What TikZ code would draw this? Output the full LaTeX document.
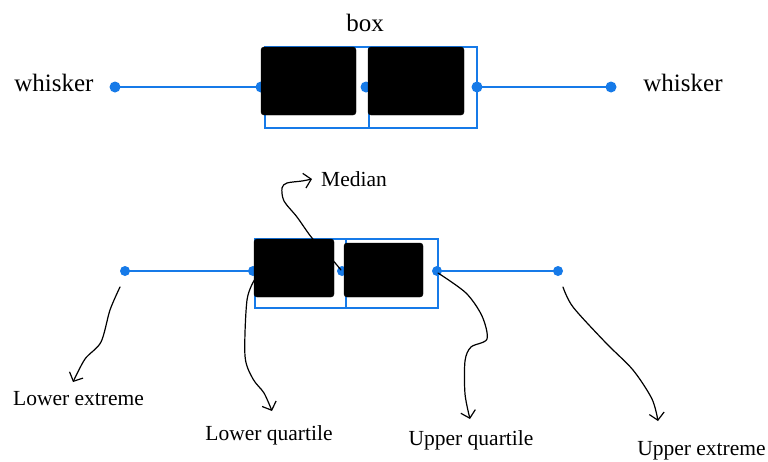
\documentclass[tikz,border=0pt]{standalone}
\usepackage{fontspec}
\setmainfont{Liberation Serif}
\usetikzlibrary{arrows.meta}

\definecolor{plotblue}{RGB}{22,122,232}

\tikzset{
  wline/.style={draw=plotblue, line width=1.4pt},
  outline/.style={draw=plotblue, line width=1.4pt},
  dot/.style={circle, fill=plotblue, inner sep=0pt, minimum size=11pt},
  blk/.style={fill=black, draw=black, rounded corners=3pt},
  biglabel/.style={font=\fontsize{25}{28}\selectfont, anchor=base, inner sep=0pt},
  label/.style={font=\fontsize{21.5}{25}\selectfont, anchor=base, inner sep=0pt},
  hand/.style={draw=black, line width=1.2pt, line cap=round, line join=round,
    -{Straight Barb[length=7pt, width=15pt, line width=1.2pt]}},
}

\begin{document}
\begin{tikzpicture}[x=1pt, y=-1pt]
\useasboundingbox (0,0) rectangle (768,461);
\fill[white] (0,0) rectangle (768,461);

% ---------- upper box plot ----------
\coordinate (tL)   at (115,87);
\coordinate (tQ1)  at (261,87);
\coordinate (tMed) at (366,87);
\coordinate (tQ3)  at (477,87);
\coordinate (tR)   at (611,87);

\draw[wline] (tL) -- (tQ1);
\draw[wline] (tQ3) -- (tR);
\draw[outline] (265,47) rectangle (477,128);
\draw[outline] (369,47) -- (369,128);

\node[dot] (tdL)   at (tL) {};
\node[dot] (tdQ1)  at (tQ1) {};
\node[dot] (tdMed) at (tMed) {};
\node[dot] (tdQ3)  at (tQ3) {};
\node[dot] (tdR)   at (tR) {};

\node[blk, minimum width=95pt, minimum height=68pt, inner sep=0pt] (tb1) at (308.5,81) {};
\node[blk, minimum width=96pt, minimum height=68pt, inner sep=0pt] (tb2) at (416,81) {};

\node[biglabel] (boxlbl) at (365,31) {box};
\node[biglabel] (wl) at (54,91) {whisker};
\node[biglabel] (wr) at (683,91) {whisker};

% ---------- lower box plot ----------
\coordinate (bL)   at (125,271);
\coordinate (bQ1)  at (253,271);
\coordinate (bMed) at (342,271);
\coordinate (bQ3)  at (437,271);
\coordinate (bR)   at (558,271);

\draw[wline] (bL) -- (bQ1);
\draw[wline] (bQ3) -- (bR);
\draw[outline] (255,239) rectangle (438,308);
\draw[outline] (346,239) -- (346,308);

\node[dot, minimum size=10pt] (bdL)   at (bL) {};
\node[dot, minimum size=10pt] (bdQ1)  at (bQ1) {};
\node[dot, minimum size=10pt] (bdMed) at (bMed) {};
\node[dot, minimum size=10pt] (bdQ3)  at (bQ3) {};
\node[dot, minimum size=10pt] (bdR)   at (bR) {};

\node[blk, minimum width=80pt, minimum height=58pt, inner sep=0pt] (bb1) at (294,268) {};
\node[blk, minimum width=79pt, minimum height=54pt, inner sep=0pt] (bb2) at (383.5,270) {};

% labels
\node[label] (medlbl) at (354,186) {Median};
\node[label] (lelbl)  at (78.5,405) {Lower extreme};
\node[label] (lqlbl)  at (269,440) {Lower quartile};
\node[label] (uqlbl)  at (471,445) {Upper quartile};
\node[label] (uelbl)  at (701.5,455) {Upper extreme};

% hand-drawn pointers
\coordinate (medS) at (341,270);
\coordinate (medT) at (312,179);
\coordinate (leS)  at (120,287);
\coordinate (leT)  at (73,382);
\coordinate (lqS)  at (255,279);
\coordinate (lqT)  at (272,411);
\coordinate (uqS)  at (438,273);
\coordinate (uqT)  at (470,419);
\coordinate (ueS)  at (563,287);
\coordinate (ueT)  at (658,421);

\draw[hand] plot[smooth, tension=0.5] coordinates
  {(medS) (330,257) (312,238) (297,217) (284,201) (282,188) (287,183) (302,181) (medT)};
\draw[hand] plot[smooth, tension=0.5] coordinates
  {(leS) (110,310) (101,342) (85,359) (leT)};
\draw[hand] plot[smooth, tension=0.5] coordinates
  {(lqS) (247,300) (245,356) (253,379) (264,393) (lqT)};
\draw[hand] plot[smooth, tension=0.5] coordinates
  {(uqS) (466,293) (482,316) (487,339) (471,347) (465,361) (465,394) (uqT)};
\draw[hand] plot[smooth, tension=0.5] coordinates
  {(ueS) (573,307) (606,343) (633,370) (652,399) (ueT)};
\end{tikzpicture}
\end{document}
